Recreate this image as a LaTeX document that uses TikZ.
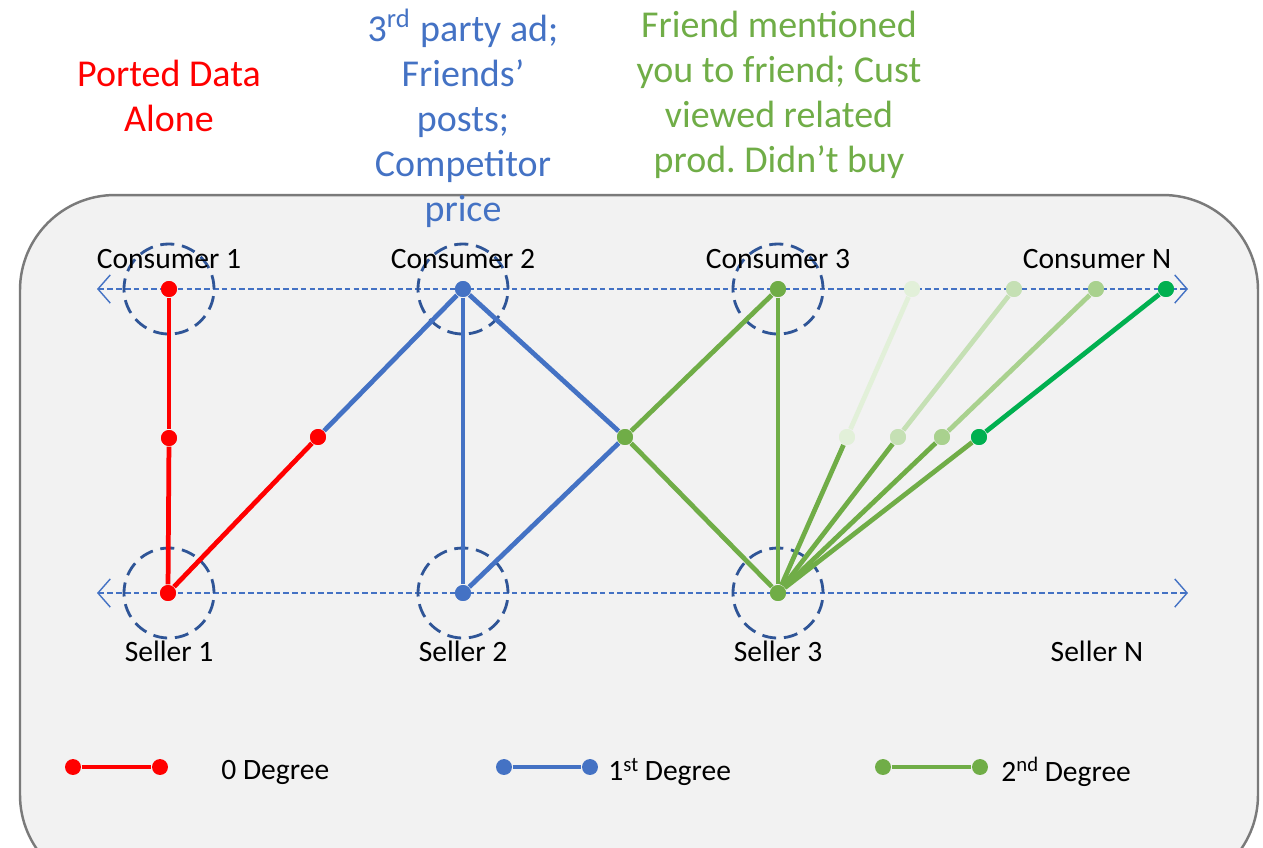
\documentclass[tikz,border=0pt]{standalone}
\usepackage{fontspec}
\setmainfont{Carlito}
\usepackage{tikz}
\usetikzlibrary{arrows.meta}
\frenchspacing

\definecolor{zeroc}{HTML}{FF0000}
\definecolor{onec}{HTML}{4472C4}
\definecolor{twoc}{HTML}{70AD47}
\definecolor{ringc}{HTML}{2F5597}
\definecolor{boxc}{HTML}{F2F2F2}
\definecolor{framec}{HTML}{7A7A7A}
\definecolor{fadea}{HTML}{E2F0D9}
\definecolor{fadeb}{HTML}{C5E0B4}
\definecolor{fadec}{HTML}{A9D18E}
\definecolor{faded}{HTML}{00B050}

\begin{document}
\begin{tikzpicture}[x=0.01cm,y=-0.01cm]
                \tikzstyle{dot}=[circle, inner sep=0pt, minimum size=16pt*0.2835]
                \tikzstyle{ring}=[circle, draw=ringc, dash pattern=on 4pt off 2.2pt, line width=0.8pt, minimum size=0.9cm, inner sep=0pt]
                \tikzstyle{edge} = [draw, line width=1.35pt, -]
                \tikzstyle{axis} = [draw=onec, dash pattern=on 1.6pt off 0.9pt, line width=0.4pt, {Straight Barb[length=3.5pt,width=8pt,line width=0.4pt]}-{Straight Barb[length=3.5pt,width=8pt,line width=0.4pt]}]
                \tikzstyle{tag}=[font=\fontsize{8.4}{10}\selectfont, text=black]
                \tikzstyle{note}=[align=center, font=\fontsize{10.8}{12.8}\selectfont]

                \useasboundingbox (0,0) rectangle (1263,847);
                \path[clip] (0,0) rectangle (1263,847);
                \path[fill=boxc, draw=framec, line width=0.7pt, rounded corners=0.95cm] (20,195) rectangle (1258,890);

                % time lines of consumers and sellers
                \coordinate (cl) at (97,289);
                \coordinate (cr) at (1188,289);
                \coordinate (sl) at (97,593);
                \coordinate (sr) at (1188,593);
                \path[axis] (cl) -- (cr);
                \path[axis] (sl) -- (sr);

                \node[ring] (rc1) at (169,289) {};
                \node[ring] (rc2) at (463,289) {};
                \node[ring] (rc3) at (778,289) {};
                \node[ring] (rs1) at (169,593) {};
                \node[ring] (rs2) at (463,593) {};
                \node[ring] (rs3) at (778,593) {};

                \node[tag] (t1) at (169,259) {Consumer 1};
                \node[tag] (t2) at (463,259) {Consumer 2};
                \node[tag] (t3) at (778,259) {Consumer 3};
                \node[tag] (t4) at (1097,259) {Consumer N};
                \node[tag] (u1) at (169,651) {Seller 1};
                \node[tag] (u2) at (463,651) {Seller 2};
                \node[tag] (u3) at (778,651) {Seller 3};
                \node[tag] (u4) at (1097,651) {Seller N};

                % points
                \node[dot, fill=zeroc] (c1) at (169,289) {};
                \node[dot, fill=zeroc] (m1) at (169,438) {};
                \node[dot, fill=zeroc] (s1) at (168,593) {};
                \node[dot, fill=zeroc] (m2) at (318,437) {};
                \node[dot, fill=onec] (c2) at (463,289) {};
                \node[dot, fill=onec] (s2) at (463,593) {};
                \node[dot, fill=twoc] (m3) at (625,437) {};
                \node[dot, fill=twoc] (c3) at (778,289) {};
                \node[dot, fill=twoc] (s3) at (778,593) {};
                \node[dot, fill=fadea] (f1) at (847,437) {};
                \node[dot, fill=fadeb] (f2) at (898,437) {};
                \node[dot, fill=fadec] (f3) at (942,437) {};
                \node[dot, fill=faded] (f4) at (979,437) {};
                \node[dot, fill=fadea] (n1) at (912,289) {};
                \node[dot, fill=fadeb] (n2) at (1014,289) {};
                \node[dot, fill=fadec] (n3) at (1096,289) {};
                \node[dot, fill=faded] (n4) at (1166,289) {};

                \foreach \source/ \dest in {c1/m1, m1/s1, s1/m2}
                \path[edge, zeroc] (\source) -- (\dest);
                \foreach \source/ \dest in {m2/c2, c2/s2, c2/m3, s2/m3}
                \path[edge, onec] (\source) -- (\dest);
                \foreach \source/ \dest in {m3/c3, c3/s3, m3/s3, s3/f1, s3/f2, s3/f3, s3/f4}
                \path[edge, twoc] (\source) -- (\dest);
                \foreach \source/ \dest/ \col in {f1/n1/fadea, f2/n2/fadeb, f3/n3/fadec, f4/n4/faded}
                \path[edge, \col] (\source) -- (\dest);

                % redraw points on top of the edges
                \foreach \p/ \col in {c1/zeroc, m1/zeroc, s1/zeroc, m2/zeroc, c2/onec, s2/onec, m3/twoc, c3/twoc, s3/twoc,
                                      f1/fadea, f2/fadeb, f3/fadec, f4/faded, n1/fadea, n2/fadeb, n3/fadec, n4/faded}
                \fill[\col] (\p) circle (8*0.2835pt);

                % notes above the consumers
                \node[note, text=zeroc] (p1) at (169,96) {Ported Data\\Alone};
                \node[note, text=onec] (p2) at (463,118) {3\textsuperscript{rd} party ad;\\Friends’\\posts;\\Competitor\\price};
                \node[note, text=twoc] (p3) at (779,95) {Friend mentioned\\you to friend; Cust\\viewed related\\prod. Didn’t buy};

                % legend
                \node[dot, fill=zeroc] (la) at (73,767) {};
                \node[dot, fill=zeroc] (lb) at (160,767) {};
                \node[dot, fill=onec] (lc) at (504,767) {};
                \node[dot, fill=onec] (ld) at (590,767) {};
                \node[dot, fill=twoc] (le) at (883,767) {};
                \node[dot, fill=twoc] (lf) at (980,767) {};
                \path[edge, zeroc] (la) -- (lb);
                \path[edge, onec] (lc) -- (ld);
                \path[edge, twoc] (le) -- (lf);
                \node[tag, anchor=west] (k1) at (209,772) {0 Degree};
                \node[tag, anchor=west] (k2) at (596,772) {1\textsuperscript{st}\,Degree};
                \node[tag, anchor=west] (k3) at (989,772) {2\textsuperscript{nd}\,Degree};
            \end{tikzpicture}
\end{document}
